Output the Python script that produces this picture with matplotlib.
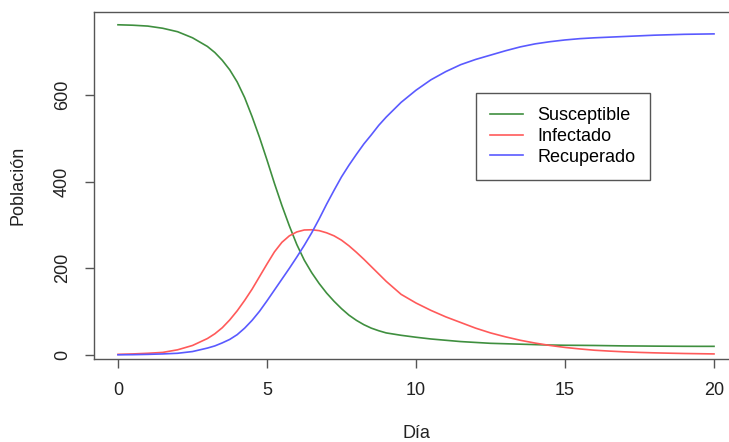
import matplotlib
matplotlib.use("Agg")
import matplotlib.pyplot as plt

# valori (giorno, popolazione)
dias = [0, 0.5, 1, 1.5, 2, 2.5,
        3, 3.25, 3.5, 3.75, 4, 4.25, 4.5, 4.75, 5, 5.25, 5.5, 5.75, 6, 6.25, 6.5, 6.75,
        7, 7.25, 7.5, 7.75, 8, 8.25, 8.5, 8.75, 9,
        9.5, 10, 10.5, 11, 11.5, 12, 12.5, 13, 13.5, 14, 14.5, 15, 15.5, 16, 16.5, 17,
        17.5, 18, 18.5, 19, 19.5, 20]

susceptible = [762, 761, 759, 754, 746, 732,
               712, 698, 680, 658, 630, 594, 550, 502, 450, 396, 345, 298, 255, 219, 190, 165,
               143, 124, 107, 92, 80, 70, 62, 56, 51,
               45.5, 41, 37, 34, 31, 29, 27, 26, 25, 24, 23, 22.5, 22.3, 22, 21.5, 21,
               20.8, 20.5, 20.3, 20.1, 20, 20]

infectado = [1.5, 2.5, 4, 6, 12, 22,
             38, 49, 63, 81, 102, 126, 152, 181, 210, 238, 260, 275, 284, 288.5, 289, 287,
             282, 275, 265, 252, 237, 221, 204, 187, 170,
             140, 120, 103, 88, 75, 62, 51, 42, 34, 27.5, 22, 17.5, 14, 11, 9, 7.3,
             6, 5, 4.2, 3.5, 3, 2.5]

recuperado = [0.5, 0.8, 1.5, 2.5, 4, 8,
              16, 21, 28, 36, 47, 62, 80, 101, 125, 150, 175, 200, 226, 253, 282, 314,
              348, 380, 411, 438, 463, 487, 508, 530, 549,
              583, 611, 635, 654, 670, 682, 692, 702, 711, 718, 723, 727, 730, 732, 733.5, 735,
              736.5, 738, 739, 740, 740.5, 741]

plt.rcParams['font.family'] = ['Liberation Sans', 'DejaVu Sans']

fig = plt.figure(figsize=(7.29, 4.42), dpi=100)
ax = fig.add_axes([94 / 729, 83 / 442, 644 / 729, 347 / 442])

ax.plot(dias, susceptible, color='#3f8f3f', lw=1.2, label='Susceptible')
ax.plot(dias, infectado, color='#ff5a5a', lw=1.2, label='Infectado')
ax.plot(dias, recuperado, color='#5a5aff', lw=1.2, label='Recuperado')

ax.set_xlim(-0.805, 20.805)
ax.set_ylim(-9.2, 791.5)
ax.set_xticks([0, 5, 10, 15, 20])
ax.set_yticks([0, 200, 400, 600])

for s in ax.spines.values():
    s.set_color('#555555')
    s.set_linewidth(1.0)

ax.tick_params(axis='both', length=6.5, width=1.0, color='#555555',
               labelsize=13, labelcolor='#222222', pad=10)
for lab in ax.get_yticklabels():
    lab.set_rotation(90)
    lab.set_va('center')

ax.set_xlabel('Día', fontsize=13, color='#222222', labelpad=19)
ax.set_ylabel('Población', fontsize=13, color='#222222', labelpad=20)

leg = ax.legend(loc='upper left', bbox_to_anchor=(476 / 729, 1 - 93 / 442),
                bbox_transform=fig.transFigure, borderaxespad=0, fontsize=13,
                fancybox=False, framealpha=1, edgecolor='#555555',
                handlelength=1.8, labelspacing=0.2, borderpad=0.8, handletextpad=0.8)
leg.get_frame().set_linewidth(1.0)

fig.savefig('out.png', dpi=100)
